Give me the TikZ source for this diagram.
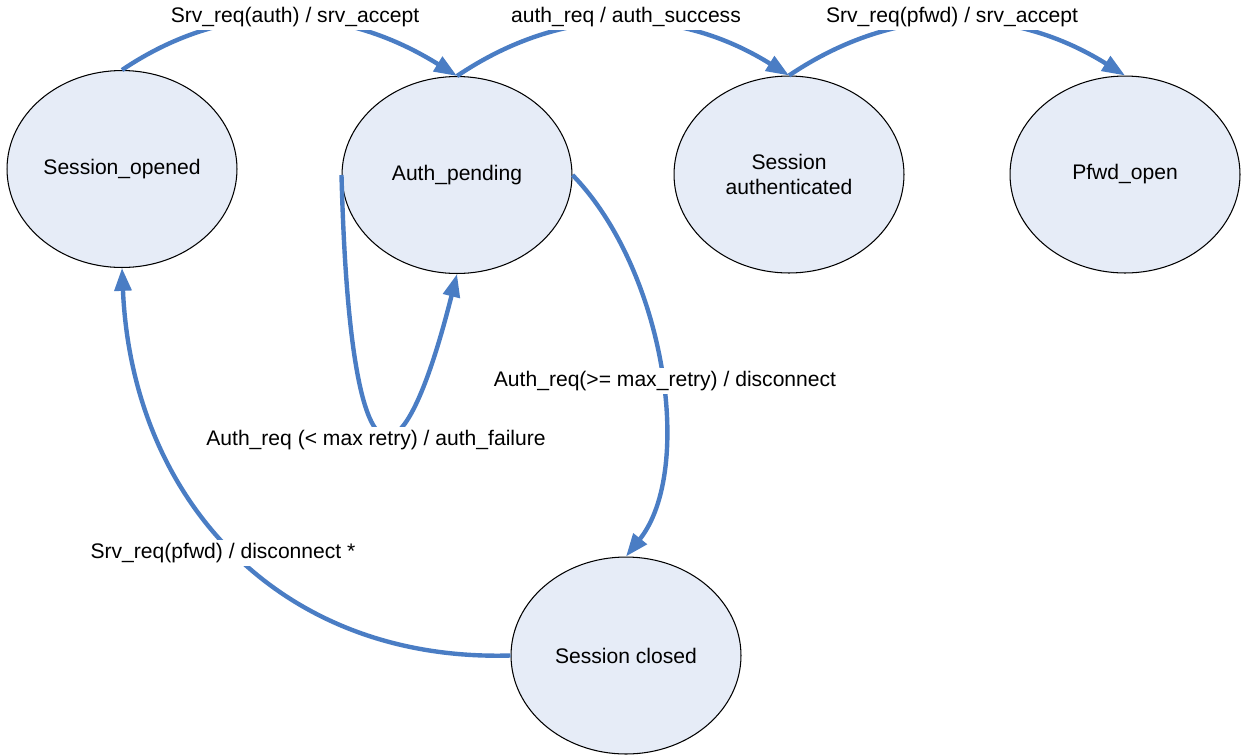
\documentclass[tikz,border=0pt]{standalone}
\usepackage{fontspec}
\setmainfont{Liberation Sans}
\usetikzlibrary{shapes.geometric,arrows.meta}
\definecolor{statefill}{RGB}{230,236,247}
\definecolor{edgeblue}{RGB}{74,125,196}
\tikzset{
  state/.style={ellipse, draw=black, line width=0.6pt, fill=statefill,
    minimum width=4.6cm, minimum height=3.94cm, inner sep=0pt,
    align=center, font=\fontsize{12}{14.5}\selectfont},
  trans/.style={draw=edgeblue, line width=2.5pt,
    -{Triangle[length=13pt,width=9.5pt]}},
  lbl/.style={fill=white, inner sep=2pt, font=\fontsize{12}{14.5}\selectfont}
}
\begin{document}
\begin{tikzpicture}[x=0.02cm,y=-0.02cm]
\useasboundingbox (0,0) rectangle (1243,755);

% states
\node[state] (so) at (122,169) {Session\_opened};
\node[state] (ap) at (457,175) {Auth\_pending};
\node[state] (sa) at (789,174.5) {Session\\authenticated};
\node[state] (po) at (1125,174.5) {Pfwd\_open};
\node[state] (sc) at (626,655.5) {Session closed};

% transitions
\draw[trans] (so.north) to[out=34,in=148] (ap.north);
\draw[trans] (ap.north) to[out=34,in=148] (sa.north);
\draw[trans] (sa.north) to[out=34,in=148] (po.north);
\draw[trans] (ap.west) .. controls (350,500) and (400,500) .. (ap.south);
\draw[trans] (ap.east) .. controls (665,270) and (695,470) .. (sc.north);
\draw[trans] (sc.west) .. controls (280,662) and (132,500) .. (so.south);

% transition labels
\node[lbl] (l1) at (295,17) {Srv\_req(auth) / srv\_accept};
\node[lbl] (l2) at (626,17) {auth\_req / auth\_success};
\node[lbl] (l3) at (952,17) {Srv\_req(pfwd) / srv\_accept};
\node[lbl] (l4) at (376,440) {Auth\_req (< max retry) / auth\_failure};
\node[lbl] (l5) at (665,381) {Auth\_req(>= max\_retry) / disconnect};
\node[lbl] (l6) at (223,553) {Srv\_req(pfwd) / disconnect *};
\end{tikzpicture}
\end{document}
